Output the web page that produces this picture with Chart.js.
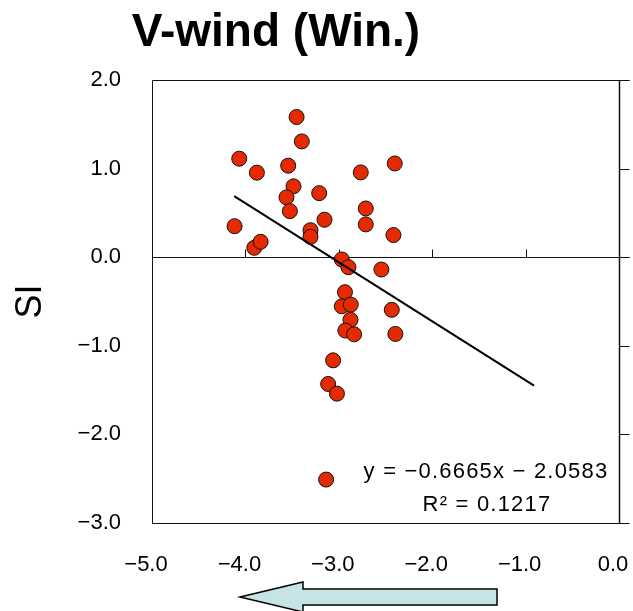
<!DOCTYPE html>
<html><head><meta charset="utf-8">
<script src="https://cdn.jsdelivr.net/npm/chart.js@4/dist/chart.umd.min.js"></script>
<style>html,body{margin:0;padding:0;background:#fff}#wrap{width:633px;height:611px}</style>
</head><body><div id="wrap"><canvas id="c" width="633" height="611"></canvas></div>
<script>
const titleText = 'V-wind (Win.)';
const yAxisTitle = 'SI';
const windX = [-3.452,-3.396,-4.066,-3.877,-3.542,-3.485,-3.560,-3.524,-3.210,-3.153,-3.303,-3.303,-4.116,-3.905,-3.837,
  -2.711,-2.711,-2.415,-2.968,-2.897,-2.544,-2.934,-2.968,-2.872,-2.433,-2.875,-2.930,-2.836,-2.394,-3.061,-3.114,-3.020,-3.136,-2.765,-2.401];
const siY = [1.582,1.307,1.112,0.954,1.033,0.800,0.675,0.520,0.723,0.423,0.305,0.230,0.350,0.106,0.174,
  0.550,0.370,0.250,-0.026,-0.113,-0.139,-0.395,-0.554,-0.535,-0.594,-0.707,-0.828,-0.870,-0.866,-1.164,-1.431,-1.540,-2.510,0.957,1.058];
const trendX = [-4.12, -0.91];
const trendY = [0.69, -1.45];
const equationLines = ['y = \u22120.6665x \u2212 2.0583', 'R\u00b2 = 0.1217'];
const xTicks = [-5, -4, -3, -2, -1, 0];
const yTicks = [2, 1, 0, -1, -2, -3];

const fmt = v => (v < 0 ? '\u2212' : '') + Math.abs(v).toFixed(1);
const FONT = "'Liberation Sans', Arial, sans-serif";

const decor = {
  id: 'decor',
  beforeDatasetsDraw(chart) {
    const {ctx, chartArea: a, scales: {x, y}} = chart;
    ctx.save();
    ctx.strokeStyle = '#111';
    ctx.lineWidth = 1;
    const L = Math.round(a.left) + 0.5, R = Math.round(a.right) + 0.5;
    const T = Math.round(a.top) + 0.5, B = Math.round(a.bottom) + 0.5;
    ctx.beginPath();
    ctx.moveTo(R + 10, T); ctx.lineTo(L, T); ctx.lineTo(L, B); ctx.lineTo(R, B);
    ctx.stroke();
    const y0 = Math.round(y.getPixelForValue(0)) + 0.5;
    const x0 = Math.round(x.getPixelForValue(0)) + 0.5;
    ctx.beginPath();
    ctx.moveTo(L, y0); ctx.lineTo(x0 + 10, y0);
    xTicks.forEach(v => { const px = Math.round(x.getPixelForValue(v)) + 0.5; ctx.moveTo(px, y0); ctx.lineTo(px, y0 - 8); });
    ctx.stroke();
    ctx.lineWidth = 1.5;
    ctx.beginPath();
    ctx.moveTo(x0, T); ctx.lineTo(x0, B);
    ctx.stroke();
    ctx.lineWidth = 1;
    ctx.beginPath();
    yTicks.forEach(v => { const py = Math.round(y.getPixelForValue(v)) + 0.5; ctx.moveTo(x0, py); ctx.lineTo(x0 + 10, py); });
    ctx.stroke();
    ctx.restore();
  },
  afterDraw(chart) {
    const {ctx} = chart;
    ctx.save();
    ctx.fillStyle = '#000';
    ctx.textAlign = 'center';
    ctx.textBaseline = 'alphabetic';
    ctx.font = 'bold 46px ' + FONT;
    ctx.fillText(titleText, 276, 46);
    ctx.font = '22px ' + FONT;
    ctx.letterSpacing = '1.2px';
    ctx.fillText(equationLines[0], 486, 478);
    ctx.fillText(equationLines[1], 487, 511);
    ctx.letterSpacing = '0px';
    ctx.beginPath();
    ctx.moveTo(240, 597);
    ctx.lineTo(303, 582);
    ctx.lineTo(303, 589);
    ctx.lineTo(497, 589);
    ctx.lineTo(497, 605);
    ctx.lineTo(303, 605);
    ctx.lineTo(303, 612);
    ctx.closePath();
    ctx.fillStyle = '#c4e4e6';
    ctx.fill();
    ctx.strokeStyle = '#000';
    ctx.lineWidth = 1.5;
    ctx.stroke();
    ctx.restore();
  }
};

new Chart(document.getElementById('c'), {
  type: 'scatter',
  data: {
    datasets: [
      {
        type: 'line',
        data: trendX.map((v, i) => ({x: v, y: trendY[i]})),
        borderColor: '#000', borderWidth: 2, pointRadius: 0, fill: false, order: 0
      },
      {
        data: windX.map((v, i) => ({x: v, y: siY[i]})),
        backgroundColor: '#e62a00', borderColor: '#111', borderWidth: 1,
        pointRadius: 7.5, pointHoverRadius: 7.5, order: 1
      }
    ]
  },
  options: {
    responsive: false,
    devicePixelRatio: 1,
    animation: false,
    layout: {padding: {top: 80, right: 14, bottom: 0, left: 0}},
    plugins: {legend: {display: false}, tooltip: {enabled: false}, title: {display: false}},
    scales: {
      x: {
        type: 'linear', min: -5, max: 0,
        grid: {display: false, drawTicks: false},
        border: {display: false},
        ticks: {stepSize: 1, autoSkip: false, maxRotation: 0, padding: 29, labelOffset: -6, color: '#000',
          font: {family: FONT, size: 22}, callback: v => fmt(v)},
        afterFit: s => { s.height = 88; s.paddingLeft = 0; s.paddingRight = 0; }
      },
      y: {
        type: 'linear', min: -3, max: 2,
        grid: {display: false, drawTicks: false},
        border: {display: false},
        ticks: {stepSize: 1, autoSkip: false, padding: 31, color: '#000',
          font: {family: FONT, size: 22}, callback: v => fmt(v)},
        title: {display: true, text: yAxisTitle, color: '#000', font: {family: FONT, size: 36}, padding: {top: 9, bottom: 0}},
        afterFit: s => { s.width = 152; s.paddingTop = 0; s.paddingBottom = 0; }
      }
    }
  },
  plugins: [decor]
});
</script>
</body></html>
